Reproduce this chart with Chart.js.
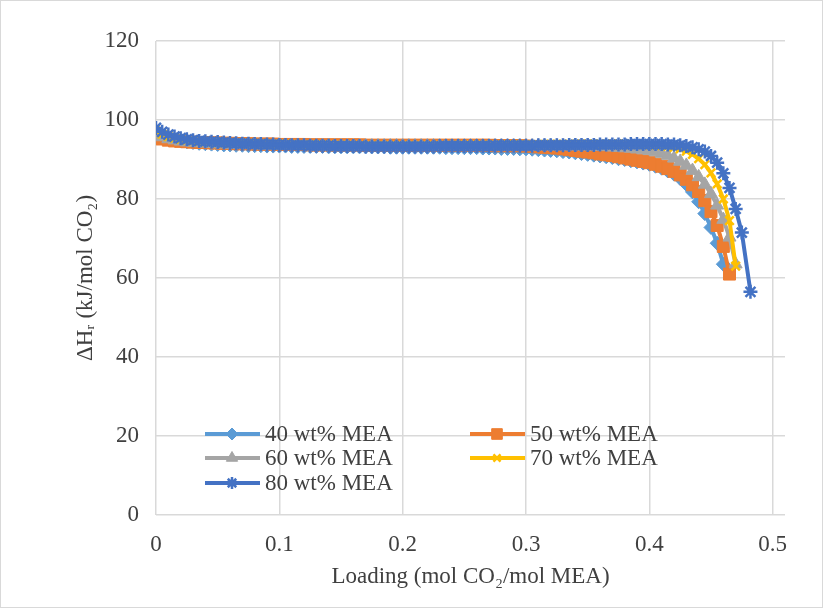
<!DOCTYPE html>
<html>
<head>
<meta charset="utf-8">
<script src="https://cdn.jsdelivr.net/npm/chart.js@4.4.1/dist/chart.umd.min.js"></script>
<style>
  html, body { margin: 0; padding: 0; background: #fff; }
  #wrap { width: 823px; height: 608px; }
</style>
</head>
<body>
<div id="wrap"><canvas id="heatChart" width="823" height="608"></canvas></div>
<script>
// loading (mol CO2/mol MEA)
var loading = [0, 0.005, 0.01, 0.015, 0.02, 0.025, 0.03, 0.035, 0.04, 0.045,
  0.05, 0.055, 0.06, 0.065, 0.07, 0.075, 0.08, 0.085, 0.09, 0.095,
  0.1, 0.105, 0.11, 0.115, 0.12, 0.125, 0.13, 0.135, 0.14, 0.145,
  0.15, 0.155, 0.16, 0.165, 0.17, 0.175, 0.18, 0.185, 0.19, 0.195,
  0.2, 0.205, 0.21, 0.215, 0.22, 0.225, 0.23, 0.235, 0.24, 0.245,
  0.25, 0.255, 0.26, 0.265, 0.27, 0.275, 0.28, 0.285, 0.29, 0.295,
  0.3, 0.305, 0.31, 0.315, 0.32, 0.325, 0.33, 0.335, 0.34, 0.345,
  0.35, 0.355, 0.36, 0.365, 0.37, 0.375, 0.38, 0.385, 0.39, 0.395,
  0.4, 0.405, 0.41, 0.415, 0.42, 0.425, 0.43, 0.435, 0.44, 0.445,
  0.45, 0.455, 0.46, 0.465, 0.47, 0.475, 0.482];

// heat of absorption (kJ/mol CO2) per MEA concentration
var dH40 = [96.8, 96.0, 95.4, 95.0, 94.7, 94.5, 94.3, 94.1, 94.0, 93.9,
  93.8, 93.7, 93.7, 93.6, 93.6, 93.5, 93.5, 93.5, 93.4, 93.4,
  93.4, 93.4, 93.3, 93.3, 93.3, 93.3, 93.3, 93.3, 93.2, 93.2,
  93.2, 93.2, 93.2, 93.2, 93.2, 93.2, 93.2, 93.2, 93.1, 93.1,
  93.1, 93.1, 93.1, 93.1, 93.1, 93.1, 93.1, 93.0, 93.0, 93.0,
  93.0, 93.0, 93.0, 92.9, 92.9, 92.9, 92.8, 92.8, 92.8, 92.7,
  92.7, 92.6, 92.5, 92.4, 92.3, 92.2, 92.0, 91.9, 91.7, 91.5,
  91.3, 91.1, 90.9, 90.7, 90.5, 90.2, 90.0, 89.7, 89.4, 89.1,
  88.8, 88.3, 87.8, 87.1, 86.3, 85.2, 83.7, 81.8, 79.3, 76.3,
  72.8, 68.8, 63.5];
var dH50 = [95.5, 95.2, 94.9, 94.7, 94.6, 94.5, 94.4, 94.3, 94.3, 94.2,
  94.2, 94.1, 94.1, 94.0, 94.0, 94.0, 93.9, 93.9, 93.9, 93.9,
  93.8, 93.8, 93.8, 93.8, 93.8, 93.7, 93.7, 93.7, 93.7, 93.7,
  93.7, 93.7, 93.7, 93.7, 93.6, 93.6, 93.6, 93.6, 93.6, 93.6,
  93.6, 93.6, 93.6, 93.6, 93.6, 93.6, 93.6, 93.6, 93.6, 93.6,
  93.6, 93.6, 93.6, 93.6, 93.6, 93.5, 93.5, 93.5, 93.5, 93.5,
  93.4, 93.3, 93.2, 93.1, 93.0, 92.9, 92.7, 92.5, 92.3, 92.1,
  91.9, 91.7, 91.4, 91.2, 91.0, 90.7, 90.4, 90.1, 89.8, 89.5,
  89.2, 88.8, 88.3, 87.7, 87.0, 86.1, 85.0, 83.6, 81.9, 79.6,
  76.8, 73.3, 68.0, 61.0];
var dH60 = [96.3, 95.7, 95.2, 94.9, 94.6, 94.4, 94.3, 94.2, 94.1, 94.0,
  93.9, 93.9, 93.8, 93.8, 93.7, 93.7, 93.7, 93.6, 93.6, 93.6,
  93.5, 93.5, 93.5, 93.5, 93.5, 93.4, 93.4, 93.4, 93.4, 93.4,
  93.4, 93.4, 93.4, 93.4, 93.4, 93.4, 93.4, 93.4, 93.4, 93.4,
  93.4, 93.4, 93.4, 93.4, 93.4, 93.4, 93.4, 93.4, 93.4, 93.4,
  93.4, 93.4, 93.4, 93.4, 93.4, 93.4, 93.4, 93.4, 93.4, 93.4,
  93.4, 93.4, 93.4, 93.4, 93.4, 93.4, 93.4, 93.4, 93.4, 93.4,
  93.4, 93.3, 93.3, 93.2, 93.1, 93.0, 92.9, 92.8, 92.6, 92.4,
  92.2, 91.9, 91.5, 91.0, 90.3, 89.5, 88.5, 87.2, 85.6, 83.7,
  81.3, 78.4, 74.8, 70.3, 63.5];
var dH70 = [97.2, 96.4, 95.8, 95.4, 95.1, 94.9, 94.7, 94.6, 94.5, 94.4,
  94.3, 94.2, 94.2, 94.1, 94.1, 94.0, 94.0, 93.9, 93.9, 93.9,
  93.8, 93.8, 93.8, 93.7, 93.7, 93.7, 93.7, 93.6, 93.6, 93.6,
  93.6, 93.6, 93.5, 93.5, 93.5, 93.5, 93.5, 93.5, 93.5, 93.5,
  93.5, 93.5, 93.5, 93.5, 93.5, 93.5, 93.5, 93.5, 93.5, 93.6,
  93.6, 93.6, 93.6, 93.6, 93.6, 93.6, 93.6, 93.7, 93.7, 93.7,
  93.7, 93.7, 93.7, 93.8, 93.8, 93.8, 93.8, 93.8, 93.8, 93.9,
  93.9, 93.9, 93.9, 93.9, 93.9, 93.9, 93.9, 93.9, 93.9, 93.8,
  93.8, 93.7, 93.6, 93.4, 93.1, 92.7, 92.1, 91.3, 90.2, 88.7,
  86.6, 83.8, 80.0, 74.5, 63.0];
var dH80 = [98.0, 97.0, 96.3, 95.8, 95.4, 95.1, 94.9, 94.7, 94.6, 94.5,
  94.4, 94.3, 94.2, 94.1, 94.0, 94.0, 93.9, 93.9, 93.8, 93.8,
  93.7, 93.7, 93.6, 93.6, 93.6, 93.5, 93.5, 93.5, 93.5, 93.4,
  93.4, 93.4, 93.4, 93.4, 93.3, 93.3, 93.3, 93.3, 93.3, 93.3,
  93.3, 93.3, 93.3, 93.3, 93.3, 93.3, 93.4, 93.4, 93.4, 93.4,
  93.4, 93.4, 93.4, 93.4, 93.4, 93.5, 93.5, 93.5, 93.5, 93.5,
  93.5, 93.5, 93.6, 93.6, 93.6, 93.6, 93.6, 93.7, 93.7, 93.7,
  93.7, 93.7, 93.8, 93.8, 93.8, 93.8, 93.8, 93.9, 93.9, 93.9,
  93.9, 93.9, 93.9, 93.8, 93.8, 93.6, 93.4, 93.1, 92.6, 92.0,
  90.9, 89.2, 86.5, 82.8, 77.5, 71.5, 56.5];

var seriesNames = ["40 wt% MEA", "50 wt% MEA", "60 wt% MEA", "70 wt% MEA", "80 wt% MEA"];
var seriesColors = ["#5B9BD5", "#ED7D31", "#A5A5A5", "#FFC000", "#4472C4"];
var xTicks = [0, 0.1, 0.2, 0.3, 0.4, 0.5];
var yTicks = [0, 20, 40, 60, 80, 100, 120];

var serif = '"Liberation Serif", "Times New Roman", serif';
var textColor = '#404040';

function toPoints(ys) {
  return ys.map(function(y, i) { return {x: loading[i], y: y}; });
}

function makeSet(idx, values, style, radius, bw) {
  return {
    label: seriesNames[idx],
    data: toPoints(values),
    borderColor: seriesColors[idx],
    backgroundColor: seriesColors[idx],
    pointBackgroundColor: seriesColors[idx],
    pointBorderColor: seriesColors[idx],
    borderWidth: 4,
    pointStyle: style,
    pointRadius: radius,
    pointBorderWidth: bw,
    tension: 0,
    order: 4 - idx
  };
}

// legend drawn inside plot area, 2 columns like the excel one
var legendSpots = [[205, 434], [470, 434], [205, 458], [470, 458], [205, 483]];
var innerLegend = {
  id: 'innerLegend',
  afterDatasetsDraw: function(chart) {
    var ctx = chart.ctx;
    chart.data.datasets.forEach(function(ds, i) {
      var x = legendSpots[i][0], y = legendSpots[i][1];
      ctx.save();
      ctx.strokeStyle = ds.borderColor;
      ctx.fillStyle = ds.borderColor;
      ctx.lineWidth = 4;
      ctx.beginPath();
      ctx.moveTo(x, y);
      ctx.lineTo(x + 55, y);
      ctx.stroke();
      ctx.lineWidth = ds.pointBorderWidth;
      Chart.helpers.drawPoint(ctx, {pointStyle: ds.pointStyle, radius: ds.pointRadius - 1, borderWidth: ds.pointBorderWidth, rotation: 0}, x + 27, y);
      ctx.fillStyle = textColor;
      ctx.font = '23px ' + serif;
      ctx.textBaseline = 'middle';
      ctx.textAlign = 'left';
      ctx.fillText(ds.label, x + 60, y + 1);
      ctx.restore();
    });
  }
};

var frame = {
  id: 'frame',
  beforeDraw: function(chart) {
    var ctx = chart.ctx;
    ctx.save();
    ctx.fillStyle = '#fff';
    ctx.fillRect(0, 0, chart.width, chart.height);
    ctx.strokeStyle = '#d9d9d9';
    ctx.lineWidth = 1;
    ctx.strokeRect(0.5, 0.5, chart.width - 1, chart.height - 1);
    ctx.restore();
  }
};

new Chart("heatChart", {
  type: "line",
  data: {
    datasets: [
      makeSet(0, dH40, 'rectRot', 7, 1),
      makeSet(1, dH50, 'rect', 8.5, 1),
      makeSet(2, dH60, 'triangle', 7.5, 1),
      makeSet(3, dH70, 'crossRot', 6, 2.5),
      makeSet(4, dH80, 'star', 7, 2.5)
    ]
  },
  options: {
    responsive: false,
    animation: false,
    devicePixelRatio: 1,
    layout: { padding: { left: 0, right: 38, top: 41, bottom: 0 } },
    plugins: {
      legend: { display: false },
      tooltip: { enabled: false }
    },
    scales: {
      x: {
        type: 'linear',
        min: 0,
        max: 0.51,
        afterBuildTicks: function(s) { s.ticks = xTicks.map(function(v) { return {value: v}; }); },
        afterFit: function(s) { s.height = 93; },
        grid: { color: '#d9d9d9', lineWidth: 1.5, drawTicks: false },
        border: { display: false },
        ticks: {
          padding: 16, color: textColor, maxRotation: 0, autoSkip: false,
          font: { family: serif, size: 23 },
          callback: function(v) { return String(v); }
        },
        title: {
          display: true, text: 'Loading (mol CO₂/mol MEA)', color: textColor,
          font: { family: serif, size: 23 }, padding: { top: 0, bottom: 17 }
        }
      },
      y: {
        min: 0,
        max: 120,
        afterBuildTicks: function(s) { s.ticks = yTicks.map(function(v) { return {value: v}; }); },
        afterFit: function(s) { s.width = 156; },
        grid: { color: '#d9d9d9', lineWidth: 1.5, drawTicks: false },
        border: { display: false },
        ticks: {
          padding: 17, color: textColor,
          font: { family: serif, size: 23 }
        },
        title: {
          display: true, text: 'ΔHᵣ (kJ/mol CO₂)', color: textColor,
          font: { family: serif, size: 23 }, padding: { top: 72, bottom: 0 }
        }
      }
    }
  },
  plugins: [frame, innerLegend]
});
</script>
</body>
</html>
